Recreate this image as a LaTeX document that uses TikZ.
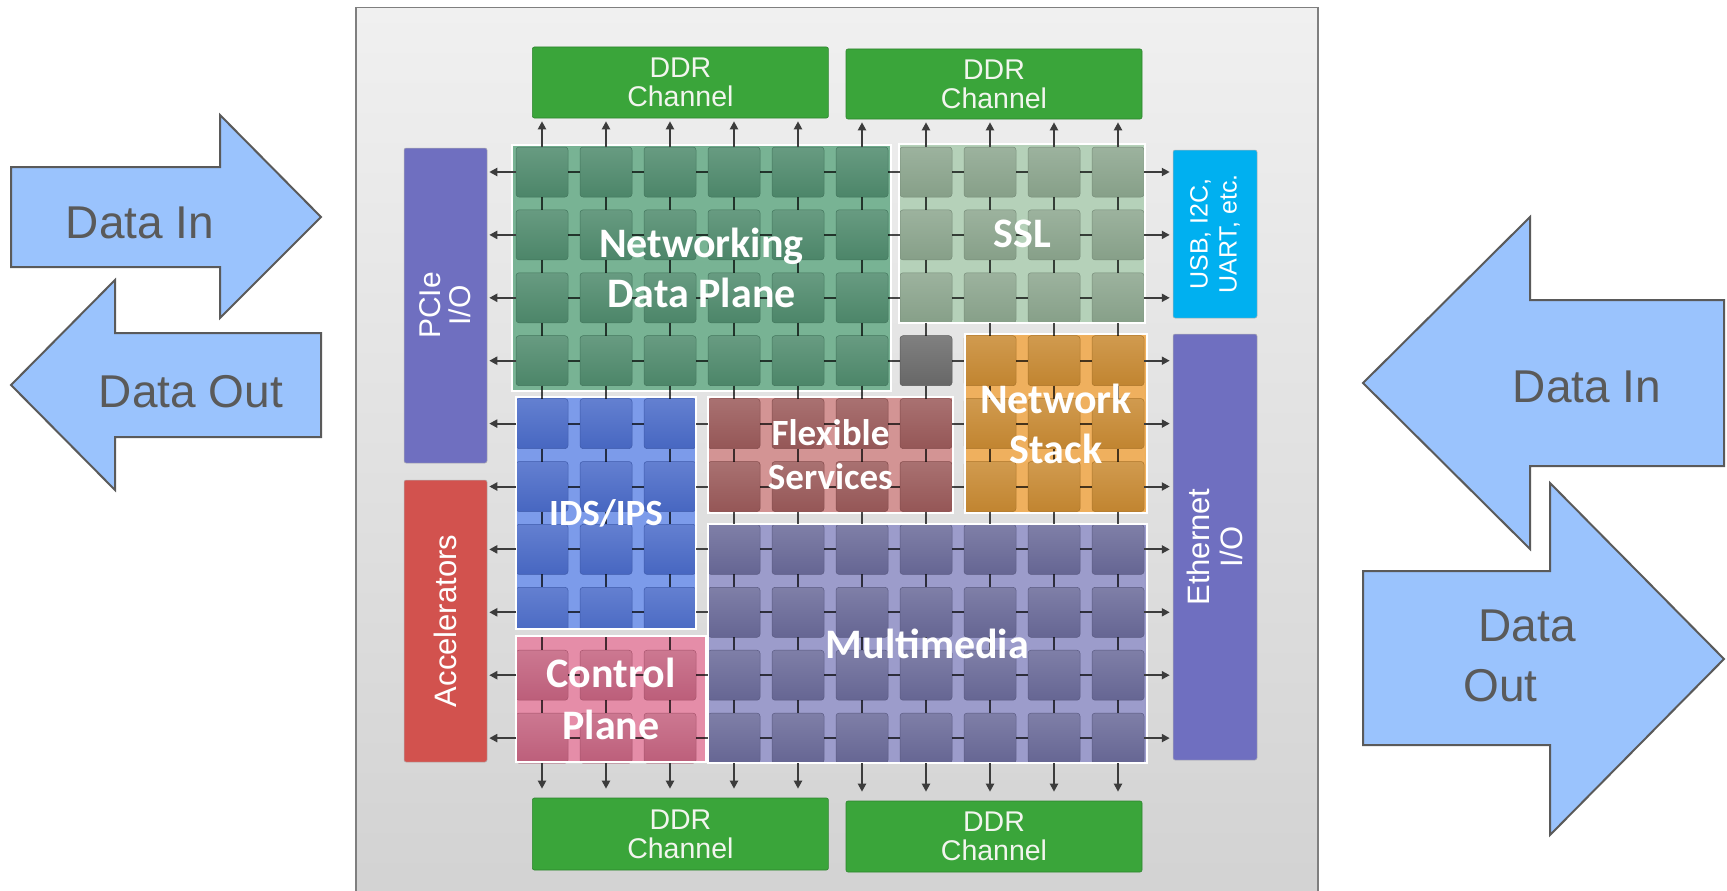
\documentclass[tikz,border=0pt]{standalone}
\usepackage{fontspec}
\setmainfont{Liberation Sans}
\newfontfamily\calfont{Carlito}
\usetikzlibrary{arrows.meta,calc}
\definecolor{chiptop}{HTML}{F0F0F0}
\definecolor{chipbot}{HTML}{D2D2D2}
\definecolor{chipline}{HTML}{7F7F7F}
\definecolor{ddrgreen}{HTML}{3AA53A}
\definecolor{iopurple}{HTML}{6F6FC0}
\definecolor{accred}{HTML}{D2524E}
\definecolor{usbcyan}{HTML}{00B0F0}
\definecolor{bigfill}{HTML}{9AC3FD}
\definecolor{bigline}{HTML}{5A5A5A}
\definecolor{ndpbg}{HTML}{78B394}
\definecolor{ndptile}{HTML}{4F8B6D}
\definecolor{sslbg}{HTML}{B5D1B9}
\definecolor{ssltile}{HTML}{8CA68E}
\definecolor{idsbg}{HTML}{7C9BEA}
\definecolor{idstile}{HTML}{4A6BC9}
\definecolor{flexbg}{HTML}{D39494}
\definecolor{flextile}{HTML}{9B5A5A}
\definecolor{nsbg}{HTML}{EFB05E}
\definecolor{nstile}{HTML}{C98A32}
\definecolor{mmbg}{HTML}{9C9CCB}
\definecolor{mmtile}{HTML}{6A6A99}
\definecolor{cpbg}{HTML}{E58DA8}
\definecolor{cptile}{HTML}{C4627F}
\definecolor{graytile}{HTML}{6B6B6B}
\definecolor{arrowgray}{HTML}{3C3C3C}
\definecolor{ddrtext}{HTML}{F2F5EE}

\newcommand\tilegrid[5]{%
  \foreach \ii in {#1,...,#2}{%
    \foreach \jj in {#3,...,#4}{%
      \node[tile, top color=#5!86!white, bottom color=#5!96!black, draw=#5!85!black]
        (t-\ii-\jj) at ({542+64*(\jj-1)},{172+62.9*(\ii-1)}) {};
    }%
  }%
}

\begin{document}
\begin{tikzpicture}[x=1pt,y=-1pt,
  tile/.style={rectangle, rounded corners=3pt, minimum width=52pt, minimum height=50pt, inner sep=0pt, outer sep=0pt, line width=0.5pt},
  blockbox/.style={rectangle, inner sep=0pt, outer sep=0pt},
  blockedge/.style={draw=white, line width=2.5pt},
  blocklabel/.style={text=white, align=center, inner sep=0pt, font=\calfont\bfseries\fontsize{42}{50}\selectfont},
  smalllabel/.style={blocklabel, font=\calfont\bfseries\fontsize{37}{44}\selectfont},
  ddrbox/.style={rectangle, fill=ddrgreen, draw=ddrgreen!80!black, line width=0.6pt, rounded corners=2pt, minimum width=296pt, inner sep=0pt, text=ddrtext, align=center, font=\fontsize{28.5}{29}\selectfont},
  iobox/.style={rectangle, rounded corners=2pt, minimum width=83pt, inner sep=0pt, draw=black!30, line width=0.5pt},
  iotext/.style={text=white, align=center, inner sep=0pt, rotate=90},
  link/.style={draw=black, opacity=0.7, line width=2pt},
  portarrow/.style={draw=arrowgray, line width=2pt, -{Triangle[length=8pt,width=8pt]}},
  bigarrow/.style={fill=bigfill, draw=bigline, line width=2pt},
  bigtext/.style={text=bigline, inner sep=0pt, font=\fontsize{46}{60}\selectfont}
]
\useasboundingbox (0,0) rectangle (1727,891);
\clip (0,0) rectangle (1727,891);
\fill[white] (0,0) rectangle (1727,891);

% big data arrows
\draw[bigarrow] (11,167) -- (220,167) -- (220,115) -- (321,217) -- (220,318) -- (220,267) -- (11,267) -- cycle;
\draw[bigarrow] (11,385) -- (115,280) -- (115,333) -- (321,333) -- (321,437) -- (115,437) -- (115,490) -- cycle;
\draw[bigarrow] (1363,383) -- (1530,217) -- (1530,300) -- (1724,300) -- (1724,466) -- (1530,466) -- (1530,549) -- cycle;
\draw[bigarrow] (1363,571) -- (1550,571) -- (1550,483) -- (1724,659) -- (1550,835) -- (1550,745) -- (1363,745) -- cycle;
\node[bigtext, anchor=base] (din-l) at (140,238) {Data In};
\node[bigtext, anchor=base] (dout-l) at (191,407) {Data Out};
\node[bigtext, anchor=base] (din-r) at (1587,402) {Data In};
\node[bigtext, align=left] (dout-r) at (1519.5,655.5) {\hspace*{15pt}Data\\Out};

% chip
\node[draw=chipline, line width=1.5pt, top color=chiptop, bottom color=chipbot, minimum width=962pt, minimum height=900pt, anchor=north west, inner sep=0pt] (chip) at (355,7) {};

% DDR channels
\node[ddrbox, minimum height=71pt] (ddrtl) at (680.4,82.5) {DDR\\Channel};
\node[ddrbox, minimum height=70pt] (ddrtr) at (994,84) {DDR\\Channel};
\node[ddrbox, minimum height=72pt] (ddrbl) at (680.4,834) {DDR\\Channel};
\node[ddrbox, minimum height=71pt] (ddrbr) at (994,836.5) {DDR\\Channel};

% I/O boxes
\node[iobox, fill=iopurple, minimum height=315pt] (pcie) at (445.5,305.5) {};
\node[iobox, fill=accred, minimum height=282pt] (accel) at (445.5,621) {};
\node[iobox, fill=usbcyan, minimum width=84pt, minimum height=168pt] (usb) at (1215,234) {};
\node[iobox, fill=iopurple, minimum width=84pt, minimum height=426pt] (eth) at (1215,547) {};
\node[iotext, font=\fontsize{30}{30}\selectfont] (pcie-t) at (pcie.center) {PCIe\\I/O};
\node[iotext, font=\fontsize{31}{32}\selectfont] (accel-t) at (accel.center) {Accelerators};
\node[iotext, font=\fontsize{25}{29}\selectfont] (usb-t) at (usb.center) {USB, I2C,\\UART, etc.};
\node[iotext, font=\fontsize{31}{33}\selectfont] (eth-t) at (eth.center) {Ethernet\\I/O};

% blocks
\node[blockbox, fill=ndpbg, minimum width=379pt, minimum height=246pt] (ndp) at (701.5,268) {};
\node[blockbox, fill=sslbg, minimum width=246pt, minimum height=179pt] (ssl) at (1022,233.5) {};
\node[blockbox, fill=nsbg, minimum width=182pt, minimum height=179pt] (ns) at (1056,423.5) {};
\node[blockbox, fill=idsbg, minimum width=180pt, minimum height=232pt] (ids) at (606,513) {};
\node[blockbox, fill=flexbg, minimum width=245pt, minimum height=116pt] (flex) at (830.5,455) {};
\node[blockbox, fill=mmbg, minimum width=439pt, minimum height=239pt] (mm) at (927.5,643.5) {};
\node[blockbox, fill=cpbg, minimum width=190pt, minimum height=126pt] (cp) at (611,699) {};

% tiles
\tilegrid{1}{4}{1}{6}{ndptile}
\tilegrid{1}{3}{7}{10}{ssltile}
\tilegrid{4}{4}{7}{7}{graytile}
\tilegrid{4}{6}{8}{10}{nstile}
\begin{scope}
  \clip (516,397) rectangle (696,629);
  \tilegrid{5}{8}{1}{3}{idstile}
\end{scope}
\tilegrid{5}{6}{4}{7}{flextile}
\tilegrid{7}{10}{4}{10}{mmtile}
\tilegrid{9}{10}{1}{3}{cptile}

% block borders
\foreach \bb in {ndp,ssl,ns,ids,flex,mm,cp}{
  \draw[blockedge] (\bb.north west) rectangle (\bb.south east);
}

% mesh links
\foreach \ii in {1,...,10}{
  \foreach \jj [count=\kk from 2] in {1,...,9}{
    \draw[link] (t-\ii-\jj.east) -- (t-\ii-\kk.west);
  }
}
\foreach \ii [count=\kk from 2] in {1,...,9}{
  \foreach \jj in {1,...,10}{
    \draw[link] (t-\ii-\jj.south) -- (t-\kk-\jj.north);
  }
}

% port arrows
\foreach \jj in {1,...,5}{
  \draw[portarrow] (t-1-\jj.north) -- ($(t-1-\jj.north |- ddrtl.south)+(0,3)$);
  \draw[portarrow] (t-10-\jj.south) -- ($(t-10-\jj.south |- ddrbl.north)+(0,-9)$);
}
\foreach \jj in {6,...,10}{
  \draw[portarrow] (t-1-\jj.north) -- ($(t-1-\jj.north |- ddrtr.south)+(0,3)$);
  \draw[portarrow] (t-10-\jj.south) -- ($(t-10-\jj.south |- ddrbr.north)+(0,-9)$);
}
\foreach \ii in {1,...,5}{
  \draw[portarrow] (t-\ii-1.west) -- ($(t-\ii-1.west -| pcie.east)+(2,0)$);
}
\foreach \ii in {6,...,10}{
  \draw[portarrow] (t-\ii-1.west) -- ($(t-\ii-1.west -| accel.east)+(2,0)$);
}
\foreach \ii in {1,...,3}{
  \draw[portarrow] (t-\ii-10.east) -- ($(t-\ii-10.east -| usb.west)+(-3,0)$);
}
\foreach \ii in {4,...,10}{
  \draw[portarrow] (t-\ii-10.east) -- ($(t-\ii-10.east -| eth.west)+(-3,0)$);
}

% block labels
\node[blocklabel] (ndp-l) at (ndp.center) {Networking\\Data Plane};
\node[blocklabel] (ssl-l) at (ssl.center) {SSL};
\node[blocklabel] (ns-l) at (ns.center) {Network\\Stack};
\node[smalllabel] (ids-l) at (ids.center) {IDS/IPS};
\node[smalllabel] (flex-l) at (flex.center) {Flexible\\Services};
\node[blocklabel] (mm-l) at (mm.center) {Multimedia};
\node[blocklabel, font=\calfont\bfseries\fontsize{42}{52}\selectfont] (cp-l) at (cp.center) {Control\\Plane};
\end{tikzpicture}
\end{document}
